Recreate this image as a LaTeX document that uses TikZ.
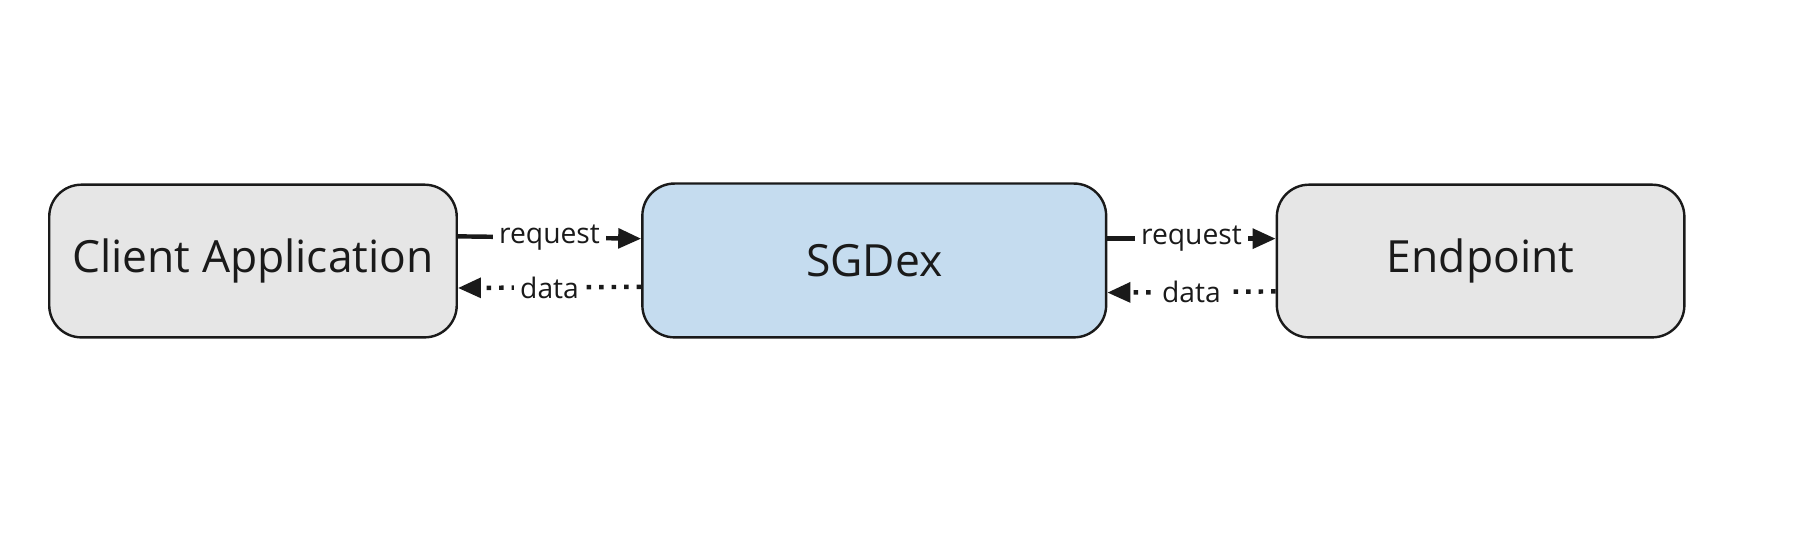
\documentclass[tikz,border=0pt]{standalone}
\usepackage{fontspec}
\setmainfont{Open Sans}
\usetikzlibrary{arrows.meta}
\definecolor{boxgray}{HTML}{E6E6E6}
\definecolor{boxblue}{HTML}{C5DCEF}
\definecolor{ink}{HTML}{1A1A1A}
\tikzset{
    block/.style={draw=ink, line width=0.6pt, rounded corners=0.28cm, inner sep=0pt, font=\fontsize{11}{13}\selectfont, text=ink},
    req/.style={draw=ink, line width=1.1pt, -{Triangle[length=0.2cm,width=0.17cm]}},
    dat/.style={draw=ink, line width=1.1pt, dotted, -{Triangle[length=0.2cm,width=0.17cm]}},
    lbl/.style={fill=white, inner sep=1.5pt, font=\fontsize{7}{8}\selectfont, text=ink},
}
\begin{document}
\begin{tikzpicture}[x=0.01cm, y=-0.01cm]
    \useasboundingbox (0,0) rectangle (1568,484);
    \node[block, fill=boxgray, minimum width=3.55cm, minimum height=1.33cm] (client) at (220.5,227.5) {Client Application};
    \node[block, fill=boxblue, minimum width=4.04cm, minimum height=1.34cm] (sgdex) at (762,227) {SGDex};
    \node[block, fill=boxgray, minimum width=3.55cm, minimum height=1.33cm] (endpoint) at (1290.5,227.5) {Endpoint};
    % client <-> sgdex
    \draw[req] (client.east |- 0,206) -- node[lbl] {request} (sgdex.west |- 0,208);
    \draw[dat] (sgdex.west |- 0,250) -- node[lbl] {data} (client.east |- 0,251);
    % sgdex <-> endpoint
    \draw[req] (sgdex.east |- 0,208) -- node[lbl] {request} (endpoint.west |- 0,208);
    \draw[dat] (endpoint.west |- 0,254) -- node[lbl] {data} (sgdex.east |- 0,255);
\end{tikzpicture}
\end{document}
